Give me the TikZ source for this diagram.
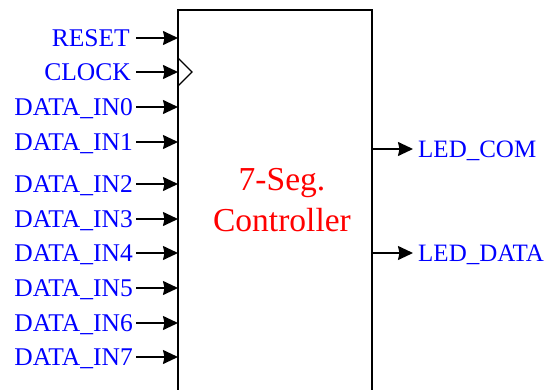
\documentclass[tikz,border=0pt]{standalone}
\usepackage{fontspec}
\setmainfont{Liberation Serif}
\usetikzlibrary{arrows.meta}
\definecolor{sigblue}{RGB}{0,0,255}
\definecolor{titlered}{RGB}{255,0,0}
\tikzset{
  sig/.style={text=sigblue, font=\fontsize{25.5}{30}\selectfont, inner sep=0pt, text height=16.9pt, text depth=0pt},
  insig/.style={sig, anchor=east},
  outsig/.style={sig, anchor=west, font=\fontsize{25}{30}\selectfont},
  arr/.style={line width=1.5pt, -{Stealth[length=15pt,width=14pt,inset=1.5pt]}},
  boxline/.style={line width=2pt},
}
\begin{document}
\begin{tikzpicture}[x=1pt,y=-1pt]
\useasboundingbox (0,0) rectangle (546,389);
\node (ctrl) [minimum width=194pt, minimum height=384pt, inner sep=0pt, anchor=north west] at (178,10) {};
\draw[boxline] (ctrl.south west) |- (ctrl.north east) -- (ctrl.south east);
\node (title) [anchor=base, align=center, text=titlered, font=\fontsize{33.5}{41}\selectfont] at (282,231) {7-Seg.\\Controller};
% inputs
\node (lreset) [insig] at (130,38) {RESET};
\node (lclock) [insig] at (131,72) {CLOCK};
\node (lin0) [insig] at (133,107) {DATA\_IN0};
\node (lin1) [insig] at (133,142) {DATA\_IN1};
\node (lin2) [insig] at (133,184) {DATA\_IN2};
\node (lin3) [insig] at (133,219) {DATA\_IN3};
\node (lin4) [insig] at (133,253) {DATA\_IN4};
\node (lin5) [insig] at (133,288) {DATA\_IN5};
\node (lin6) [insig] at (133,323) {DATA\_IN6};
\node (lin7) [insig] at (133,357) {DATA\_IN7};
\foreach \n in {lreset,lclock,lin0,lin1,lin2,lin3,lin4,lin5,lin6,lin7}{
  \draw[arr] (136,0 |- \n.east) -- (\n.east -| ctrl.west);
}
% clock mark
\coordinate (clkpin) at (lclock.east -| ctrl.west);
\draw[line width=1.2pt] ([yshift=14pt]clkpin) -- ([xshift=14pt]clkpin) -- ([yshift=-14pt]clkpin);
% outputs
\node (lcom) [outsig] at (418,149) {LED\_COM};
\node (ldata) [outsig] at (418,253) {LED\_DATA};
\draw[arr] (lcom.west -| ctrl.east) -- ([xshift=-5pt]lcom.west);
\draw[arr] (ldata.west -| ctrl.east) -- ([xshift=-5pt]ldata.west);
\end{tikzpicture}
\end{document}
